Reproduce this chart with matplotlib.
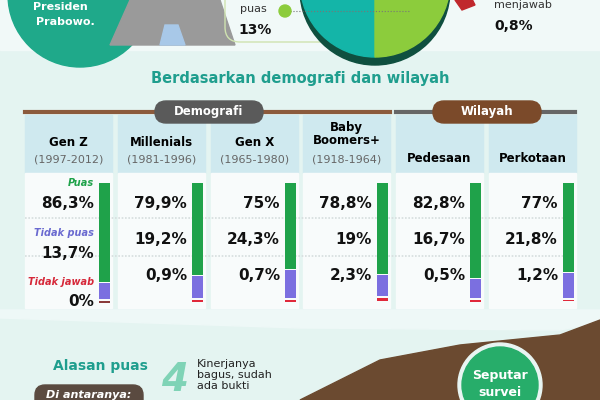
import matplotlib.pyplot as plt
from matplotlib.patches import FancyBboxPatch, Ellipse, Circle, Wedge, Rectangle, Polygon
import numpy as np

# data
groups = ["Gen Z", "Millenials", "Gen X", "Baby\nBoomers+", "Pedesaan", "Perkotaan"]
years = ["(1997-2012)", "(1981-1996)", "(1965-1980)", "(1918-1964)", "", ""]
puas = [86.3, 79.9, 75, 78.8, 82.8, 77]
tidak_puas = [13.7, 19.2, 24.3, 19, 16.7, 21.8]
tidak_jawab = [0, 0.9, 0.7, 2.3, 0.5, 1.2]

def fmt(v):
    s = ("%g" % v).replace(".", ",")
    return s

fig = plt.figure(figsize=(6, 4), dpi=100)
ax = fig.add_axes([0, 0, 1, 1])
ax.set_xlim(0, 600)
ax.set_ylim(400, 0)
ax.axis("off")
fig.patch.set_facecolor("#e4f4f1")

# ---------- top section ----------
ax.add_patch(Rectangle((0, 0), 600, 50, color="#f1f9f8", zorder=0))
ax.add_patch(Circle((80, -5), 72, color="#1fa98a", zorder=1))
ax.text(60, 7, "Presiden", color="white", fontsize=8, weight="bold", ha="center", va="center", zorder=2)
ax.text(65, 22, "Prabowo.", color="white", fontsize=8, weight="bold", ha="center", va="center", zorder=2)
ax.add_patch(Polygon([[110, 45], [130, 0], [220, 0], [235, 45]], color="#9a9a9a", zorder=1))
ax.add_patch(Polygon([[160, 45], [165, 25], [178, 25], [185, 45]], color="#a8c8e8", zorder=2))
ax.add_patch(FancyBboxPatch((225, -30), 195, 72, boxstyle="round,pad=0,rounding_size=15",
                            fc="none", ec="#cfe3b0", lw=1, zorder=1))
# pie with dark rim
ax.add_patch(Wedge((375, -10), 75, 0, 180, color="#0f4f3f", zorder=2))
ax.add_patch(Wedge((375, -18), 75, 90, 180, color="#14b5a8", zorder=3))
ax.add_patch(Wedge((375, -18), 75, 0, 90, color="#8ccc3c", zorder=3))
ax.plot([290, 410], [11, 11], ls=":", color="#777777", lw=0.8, zorder=4)
ax.add_patch(Circle((285, 11), 6, color="#8ccc3c", zorder=5))
ax.add_patch(Polygon([[455, 0], [470, -5], [475, 5], [462, 10]], color="#c0282d", zorder=4))
ax.text(240, 9, "puas", fontsize=8, color="#333333", va="center")
ax.text(238, 30, "13%", fontsize=10, weight="bold", color="#111111", va="center")
ax.text(494, 5, "menjawab", fontsize=8, color="#333333", va="center")
ax.text(494, 26, "0,8%", fontsize=10, weight="bold", color="#111111", va="center")

ax.text(300, 79, "Berdasarkan demografi dan wilayah", fontsize=10.5, weight="bold",
        color="#1f9e8e", ha="center", va="center")

# ---------- table ----------
lefts = [25, 118, 211, 303, 396, 489]
w = 87
for i, x0 in enumerate(lefts):
    ax.add_patch(Rectangle((x0, 115), w, 58, color="#cfe9ef", zorder=1))
    ax.add_patch(Rectangle((x0, 173), w, 135, color="#f8fbfb", zorder=1))
    if years[i]:
        ax.text(x0 + w / 2, 142 if i != 3 else 134, groups[i], fontsize=8.5, weight="bold",
                ha="center", va="center", zorder=3, linespacing=1.1)
        ax.text(x0 + w / 2, 159, years[i], fontsize=8, color="#666666",
                ha="center", va="center", zorder=3)
    else:
        ax.text(x0 + w / 2, 159, groups[i], fontsize=8.5, weight="bold",
                ha="center", va="center", zorder=3)

ax.plot([25, 390], [112, 112], color="#8b5a3c", lw=3, zorder=2)
ax.plot([396, 575], [112, 112], color="#666666", lw=3, zorder=2)
ax.add_patch(FancyBboxPatch((155, 101), 108, 22, boxstyle="round,pad=0,rounding_size=11",
                            color="#5a5a5a", zorder=3))
ax.text(209, 112, "Demografi", color="white", fontsize=8.5, weight="bold", ha="center", va="center", zorder=4)
ax.add_patch(FancyBboxPatch((433, 101), 108, 22, boxstyle="round,pad=0,rounding_size=11",
                            color="#7b4a2a", zorder=3))
ax.text(487, 112, "Wilayah", color="white", fontsize=8.5, weight="bold", ha="center", va="center", zorder=4)

for yy in (218, 256):
    ax.plot([25, 575], [yy, yy], color="#d6dede", lw=1.2, ls=(0, (1, 1)), zorder=2)

# bars (scale px per percent)
scale = 1.15
base = 183
for i, x0 in enumerate(lefts):
    bx = x0 + w - 13
    ax.bar(bx, puas[i] * scale, bottom=base, width=11, color="#1fa24a", align="edge", zorder=3)
    ax.bar(bx, tidak_puas[i] * scale, bottom=base + puas[i] * scale + 1, width=11,
           color="#7b6fe0", align="edge", zorder=3)
    ax.bar(bx, max(tidak_jawab[i], 1.5) * scale, bottom=base + (puas[i] + tidak_puas[i]) * scale + 3,
           width=11, color="#e0283a" if tidak_jawab[i] > 0 else "#8a3a3a", align="edge", zorder=3)
    tx = bx - 5
    if i == 0:
        ax.text(tx, 183, "Puas", fontsize=7, style="italic", weight="bold", color="#1fa24a", ha="right", va="center", zorder=4)
        ax.text(tx, 233, "Tidak puas", fontsize=7, style="italic", weight="bold", color="#6a6ad0", ha="right", va="center", zorder=4)
        ax.text(tx, 282, "Tidak jawab", fontsize=7, style="italic", weight="bold", color="#d62839", ha="right", va="center", zorder=4)
        ys = [203, 253, 301]
    else:
        ys = [203, 240, 276]
    for v, yy in zip([puas[i], tidak_puas[i], tidak_jawab[i]], ys):
        ax.text(tx, yy, fmt(v) + "%", fontsize=11, weight="bold", color="#111111",
                ha="right", va="center", zorder=4)

# ---------- bottom section ----------
ax.add_patch(Polygon([[0, 310], [600, 310], [600, 322], [560, 330], [300, 328], [0, 318]],
                     color="#eef8f7", zorder=0.5))
ax.add_patch(Polygon([[300, 400], [380, 360], [460, 345], [560, 335], [600, 320], [600, 400]],
                     color="#6b4a30", zorder=1))
ax.add_patch(Circle((500, 385), 42, color="#e8f5f2", zorder=2))
ax.add_patch(Circle((500, 385), 38, color="#27ad6a", zorder=3))
ax.text(500, 376, "Seputar", color="white", fontsize=9, weight="bold", ha="center", va="center", zorder=4)
ax.text(500, 393, "survei", color="white", fontsize=9, weight="bold", ha="center", va="center", zorder=4)
ax.text(100, 366, "Alasan puas", color="#1f9e8e", fontsize=10, weight="bold", ha="center", va="center")
ax.add_patch(FancyBboxPatch((35, 385), 108, 25, boxstyle="round,pad=0,rounding_size=10",
                            color="#5a4a40", zorder=2))
ax.text(89, 395, "Di antaranya:", color="white", fontsize=8, weight="bold", style="italic",
        ha="center", va="center", zorder=3)
ax.text(175, 380, "4", color="#7fd3b6", fontsize=28, weight="bold", style="italic",
        ha="center", va="center")
ax.text(197, 359, "Kinerjanya\nbagus, sudah\nada bukti", fontsize=8, color="#222222",
        va="top", linespacing=1.15)

fig.savefig("out.png", dpi=100)
